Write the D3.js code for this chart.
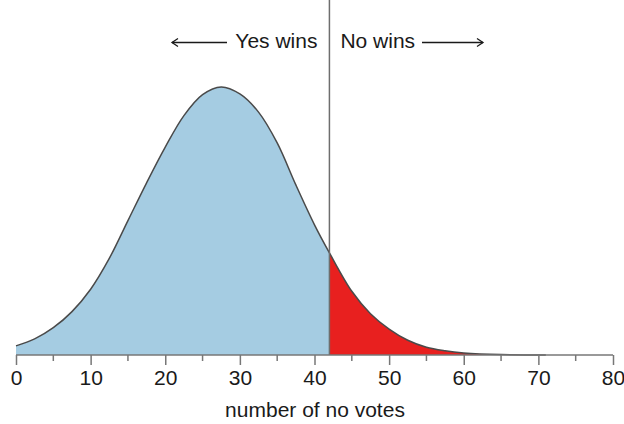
<!DOCTYPE html>
<html>
<head>
<meta charset="utf-8">
<script src="https://cdn.jsdelivr.net/npm/d3@7"></script>
<style>
  html, body { margin: 0; padding: 0; background: #fff; }
  svg { display: block; font-family: "Liberation Sans", Arial, Helvetica, sans-serif; }
</style>
</head>
<body>
<svg id="chart" width="624" height="424"></svg>
<script>
// Number of "no" votes and estimated probability (%)
const votes = [0, 2.5, 5, 7.5, 10, 12.5, 15, 17.5, 20, 22.5, 25, 27.5, 30, 32.5, 35, 37.5, 40, 42, 45, 47.5, 50, 52.5, 55, 57.5, 60, 65, 71];
const prob  = [0.13, 0.23, 0.39, 0.62, 0.94, 1.38, 1.92, 2.46, 2.97, 3.42, 3.72, 3.83, 3.73, 3.47, 3.03, 2.43, 1.86, 1.46, 0.91, 0.59, 0.37, 0.21, 0.11, 0.06, 0.03, 0.006, 0.0];
const threshold = 42;
const xTicks = [0, 10, 20, 30, 40, 50, 60, 70, 80];
const xMinorTicks = [5, 15, 25, 35, 45, 55, 65, 75];
const xTitle = "number of no votes";
const leftLabel = "Yes wins";
const rightLabel = "No wins";

const data = votes.map((v, i) => ({ x: v, y: prob[i] }));

const svg = d3.select("#chart");
const x = d3.scaleLinear().domain([0, 80]).range([16, 613]);
const y = d3.scaleLinear().domain([0, 4]).range([355, 75]);

const curve = d3.curveCatmullRom.alpha(0.5);
const area = d3.area().x(d => x(d.x)).y0(y(0)).y1(d => y(d.y)).curve(curve);
const line = d3.line().x(d => x(d.x)).y(d => y(d.y)).curve(curve);

const left = data.filter(d => d.x <= threshold);
const right = data.filter(d => d.x >= threshold);

svg.append("path").attr("d", area(left)).attr("fill", "#a5cce2");
svg.append("path").attr("d", area(right)).attr("fill", "#e8201f");
svg.append("path").attr("d", line(data)).attr("fill", "none")
  .attr("stroke", "#4a4a4a").attr("stroke-width", 1.5);

// divider line
svg.append("line")
  .attr("x1", x(threshold)).attr("x2", x(threshold))
  .attr("y1", 0).attr("y2", y(0))
  .attr("stroke", "#6e6e6e").attr("stroke-width", 1.5);

// x axis
const axisG = svg.append("g").attr("transform", `translate(0,${y(0)})`);
const axis = d3.axisBottom(x).tickValues(xTicks).tickSize(10).tickPadding(5)
  .tickFormat(d3.format("d"));
axisG.call(axis);
axisG.select(".domain").attr("stroke", "#777").attr("stroke-width", 1.5)
  .attr("d", `M${x(0)},0H${x(80)}`);
axisG.selectAll(".tick line").attr("stroke", "#777").attr("stroke-width", 1.5);
axisG.selectAll(".tick text").attr("fill", "#1a1a1a")
  .style("font-size", "21px").style("font-family", '"Liberation Sans", Arial, sans-serif');
axisG.selectAll(".minor").data(xMinorTicks).enter().append("line")
  .attr("class", "minor")
  .attr("x1", d => x(d)).attr("x2", d => x(d))
  .attr("y1", 0).attr("y2", 6)
  .attr("stroke", "#777").attr("stroke-width", 1.5);

svg.append("text")
  .attr("x", 315).attr("y", 417)
  .attr("text-anchor", "middle")
  .style("font-size", "21px").attr("fill", "#1a1a1a")
  .text(xTitle);

// top labels with arrows
const xl = x(threshold);
svg.append("text").attr("x", xl - 12).attr("y", 48)
  .attr("text-anchor", "end").style("font-size", "21px").attr("fill", "#1a1a1a")
  .text(leftLabel);
svg.append("text").attr("x", xl + 11).attr("y", 48)
  .attr("text-anchor", "start").style("font-size", "21px").attr("fill", "#1a1a1a")
  .text(rightLabel);

const arrowY = 42.5;
const ag = svg.append("g").attr("stroke", "#1a1a1a").attr("stroke-width", 1.3).attr("fill", "none");
// left arrow
ag.append("line").attr("x1", 172).attr("x2", 227).attr("y1", arrowY).attr("y2", arrowY);
ag.append("path").attr("d", `M178,${arrowY - 4}L172,${arrowY}L178,${arrowY + 4}`);
// right arrow
ag.append("line").attr("x1", 422).attr("x2", 483).attr("y1", arrowY).attr("y2", arrowY);
ag.append("path").attr("d", `M477,${arrowY - 4}L483,${arrowY}L477,${arrowY + 4}`);
</script>
</body>
</html>
